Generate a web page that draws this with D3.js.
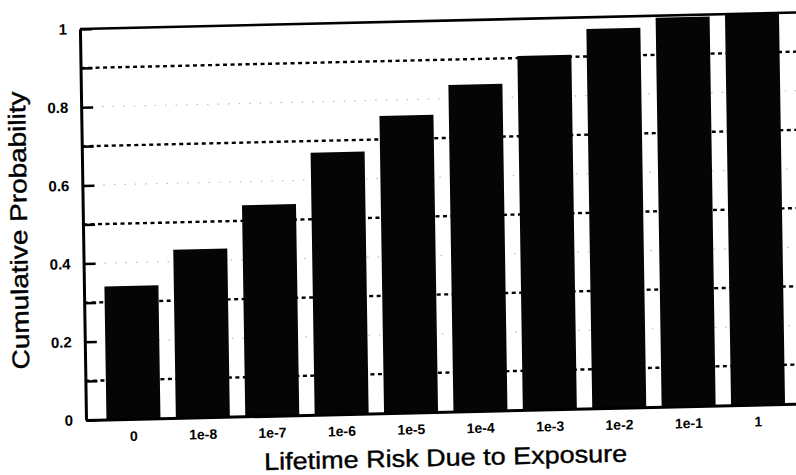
<!DOCTYPE html>
<html>
<head>
<meta charset="utf-8">
<script src="https://cdn.jsdelivr.net/npm/d3@7"></script>
<style>
  body { margin: 0; background: #fff; }
  svg { display: block; background: #fff; font-family: "Liberation Sans", Arial, sans-serif; }
  .axis path, .axis line { stroke: #000; }
  .axis text { fill: #000; font-weight: bold; }
  .axis--y text { font-size: 15px; }
  .axis--x text { font-size: 14px; }
  .dash-line { stroke: #000; stroke-width: 2.4; stroke-dasharray: 4 3.5; }
  .dot-line { stroke: #bbb; stroke-width: 1.2; stroke-dasharray: 1.5 9; }
  .axis-title { fill: #000; stroke: #000; stroke-width: 0.4; font-size: 24px; }
</style>
</head>
<body>
<div id="chart"></div>
<script>
// values
var riskLevels = ["0", "1e-8", "1e-7", "1e-6", "1e-5", "1e-4", "1e-3", "1e-2", "1e-1", "1"];
var cumulativeProb = [0.34, 0.43, 0.54, 0.67, 0.76, 0.835, 0.905, 0.97, 0.995, 1.0];

var yTickValues = [0, 0.1, 0.2, 0.3, 0.4, 0.5, 0.6, 0.7, 0.8, 0.9, 1];
var yTickLabels = [0, 0.2, 0.4, 0.6, 0.8, 1];
var dashedLevels = [0.1, 0.3, 0.5, 0.7, 0.9];
var dottedLevels = [0.2, 0.4, 0.6, 0.8];

var xTitle = "Lifetime Risk Due to Exposure",
    yTitle = "Cumulative Probability";

var svgWidth = 796,
    svgHeight = 475;

var margin = {
    left: 86,
    top: 29,
    bottom: 55,
    right: -9.5
}

var width = svgWidth - margin.left - margin.right,
    height = svgHeight - margin.top - margin.bottom;

var svg = d3.select("#chart")
    .append("svg")
        .attr("width", svgWidth)
        .attr("height", svgHeight)

// the original is a slightly skewed scan, so tilt the whole figure a bit
var page = svg.append("g")
    .attr("transform", "matrix(1,-0.023,0.0155,1,-6.51,1.98)")

var chart = page.append("g")
    .attr("transform", "translate(" + margin.left + "," + margin.top + ")");

var x = d3.scaleBand()
    .domain(riskLevels)
    .range([0, width])
    .paddingInner(0.222)
    .paddingOuter(0.295)

var y = d3.scaleLinear()
    .domain([0, 1])
    .range([height, 0])

// grid lines
chart.selectAll(".dot-line")
    .data(dottedLevels)
    .enter()
    .append("line")
    .attr("class", "dot-line")
    .attr("x1", 0)
    .attr("x2", width)
    .attr("y1", d => y(d))
    .attr("y2", d => y(d))

chart.selectAll(".dash-line")
    .data(dashedLevels)
    .enter()
    .append("line")
    .attr("class", "dash-line")
    .attr("x1", 0)
    .attr("x2", width)
    .attr("y1", d => y(d))
    .attr("y2", d => y(d))

// bars
chart.selectAll(".bar")
    .data(riskLevels)
    .enter()
    .append("rect")
    .attr("class", "bar")
    .attr("x", d => x(d))
    .attr("width", x.bandwidth())
    .attr("y", (d, i) => y(cumulativeProb[i]))
    .attr("height", (d, i) => height - y(cumulativeProb[i]))
    .attr("fill", "#050505")

// frame top
chart.append("line")
    .attr("x1", 0)
    .attr("x2", width)
    .attr("y1", y(1))
    .attr("y2", y(1))
    .attr("stroke", "#000")
    .attr("stroke-width", 2.6)

// axes
var yAxis = d3.axisLeft(y)
    .tickValues(yTickValues)
    .tickSizeInner(-12)
    .tickSizeOuter(0)
    .tickPadding(13)
    .tickFormat(d => yTickLabels.indexOf(d) >= 0 ? String(d) : "")

var xAxis = d3.axisBottom(x)
    .tickSize(0)
    .tickPadding(12)

var yAxisCall = chart.append("g")
    .attr("class", "axis axis--y")
    .call(yAxis)

yAxisCall.select(".domain").attr("stroke-width", 3)
yAxisCall.selectAll(".tick line").attr("stroke-width", 2.5)
yAxisCall.selectAll("text").attr("font-family", null).attr("font-size", null)

var xAxisCall = chart.append("g")
    .attr("class", "axis axis--x")
    .attr("transform", "translate(0," + height + ")")
    .call(xAxis)

xAxisCall.select(".domain").attr("stroke-width", 3)
xAxisCall.selectAll("text").attr("font-family", null).attr("font-size", null)

// titles
chart.append("text")
    .attr("class", "axis-title")
    .attr("transform", "translate(" + (-56) + "," + 200 + ") rotate(-90)")
    .attr("text-anchor", "middle")
    .attr("font-size", "25px")
    .attr("textLength", 278)
    .attr("lengthAdjust", "spacingAndGlyphs")
    .text(yTitle)

chart.append("text")
    .attr("class", "axis-title")
    .attr("x", 359)
    .attr("y", 445)
    .attr("text-anchor", "middle")
    .attr("textLength", 363)
    .attr("lengthAdjust", "spacingAndGlyphs")
    .text(xTitle)
</script>
</body>
</html>
